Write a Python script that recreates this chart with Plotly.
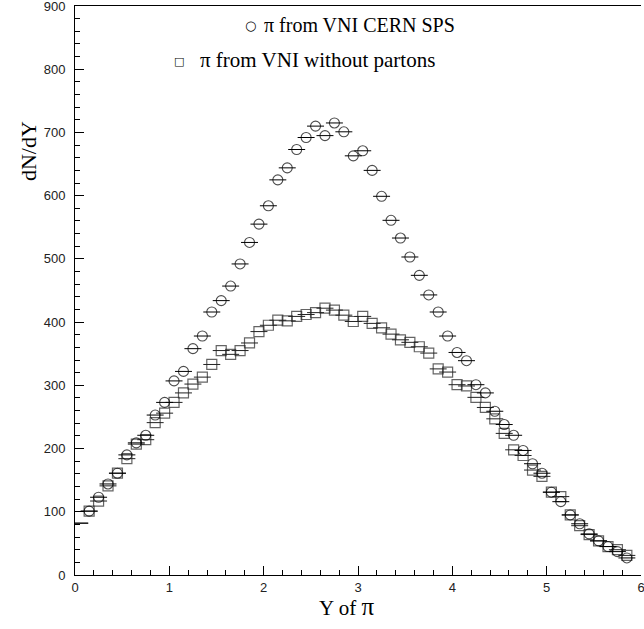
import plotly.graph_objects as go

# bin centres (rapidity of pi)
y_bins = [round(0.05 + 0.1 * i, 2) for i in range(59)]

# dN/dY, VNI CERN SPS
dndy_sps = [82, 101, 123, 144, 161, 190, 209, 221, 253, 273,
            307, 322, 358, 378, 416, 434, 457, 492, 526, 555,
            584, 625, 644, 673, 692, 710, 695, 715, 701, 663,
            671, 640, 599, 561, 533, 503, 474, 443, 416, 378,
            352, 339, 301, 288, 259, 238, 221, 197, 176, 161,
            131, 116, 95, 81, 65, 54, 45, 37, 27]

# dN/dY, VNI without partons
dndy_nopart = [82, 101, 117, 141, 161, 184, 207, 214, 241, 256,
               273, 288, 302, 313, 333, 355, 349, 355, 367, 385,
               395, 403, 402, 409, 412, 415, 422, 419, 411, 401,
               409, 398, 391, 381, 372, 368, 361, 351, 326, 321,
               301, 299, 281, 265, 247, 224, 198, 189, 166, 156,
               131, 124, 95, 78, 64, 54, 45, 40, 31]

half_bin = 0.09

SERIF = "Liberation Serif, Times New Roman, serif"
SANS = "Liberation Sans, Arial, sans-serif"
PI = '<span style="font-size:25px">π</span>'

# first bin sits on the frame: bar only, no marker
sizes = [0] + [10] * (len(y_bins) - 1)

fig = go.Figure()
fig.add_trace(go.Scatter(
    x=y_bins, y=dndy_nopart, mode="markers",
    marker=dict(symbol="square-open", size=sizes, color="#222",
                line=dict(width=1.2, color="#222")),
    error_x=dict(type="constant", value=half_bin, width=0, thickness=1, color="#222"),
    showlegend=False, hoverinfo="skip",
))
fig.add_trace(go.Scatter(
    x=y_bins, y=dndy_sps, mode="markers",
    marker=dict(symbol="circle-open", size=sizes, color="black",
                line=dict(width=1.1, color="black")),
    error_x=dict(type="constant", value=half_bin, width=0, thickness=1, color="black"),
    showlegend=False, hoverinfo="skip",
))

axis_common = dict(showgrid=False, zeroline=False, automargin=False,
                   showline=True, linecolor="black", linewidth=1,
                   ticks="inside", ticklen=9, tickcolor="black",
                   tickfont=dict(family=SANS, size=13, color="#222"),
                   ticklabeloverflow="allow")

fig.update_layout(
    width=644, height=629,
    paper_bgcolor="white", plot_bgcolor="white",
    margin=dict(l=75, r=3, t=6, b=54, autoexpand=False),
    xaxis=dict(range=[0, 6], dtick=1, ticklabelstandoff=0, mirror=True,
               minor=dict(dtick=0.2, ticks="inside", ticklen=5, tickcolor="black"),
               **axis_common),
    yaxis=dict(range=[0, 900], dtick=100, ticklabelstandoff=6, mirror=False,
               minor=dict(dtick=20, ticks="inside", ticklen=5, tickcolor="black"),
               **axis_common),
    annotations=[
        dict(text="dN/dY", textangle=-90, x=-0.083, y=0.745, xref="paper", yref="paper",
             xanchor="center", yanchor="middle", showarrow=False,
             font=dict(family=SERIF, size=22, color="black")),
        dict(text="Y of " + PI, x=0.48, y=-0.056, xref="paper", yref="paper",
             xanchor="center", yanchor="middle", showarrow=False,
             font=dict(family=SERIF, size=21, color="black")),
        dict(text="○", x=0.297, y=0.965, xref="paper", yref="paper",
             xanchor="left", yanchor="middle", showarrow=False,
             font=dict(family="DejaVu Sans", size=13, color="black")),
        dict(text="π from VNI CERN SPS", x=0.331, y=0.967, xref="paper", yref="paper",
             xanchor="left", yanchor="middle", showarrow=False,
             font=dict(family=SERIF, size=20, color="black")),
        dict(text="□", x=0.172, y=0.903, xref="paper", yref="paper",
             xanchor="left", yanchor="middle", showarrow=False,
             font=dict(family="DejaVu Sans", size=11, color="black")),
        dict(text="π from VNI without partons", x=0.217, y=0.905, xref="paper", yref="paper",
             xanchor="left", yanchor="middle", showarrow=False,
             font=dict(family=SERIF, size=21, color="black")),
    ],
)

fig.write_html("out.html", config={"displayModeBar": False},
               post_script="document.body.style.margin='0';")
